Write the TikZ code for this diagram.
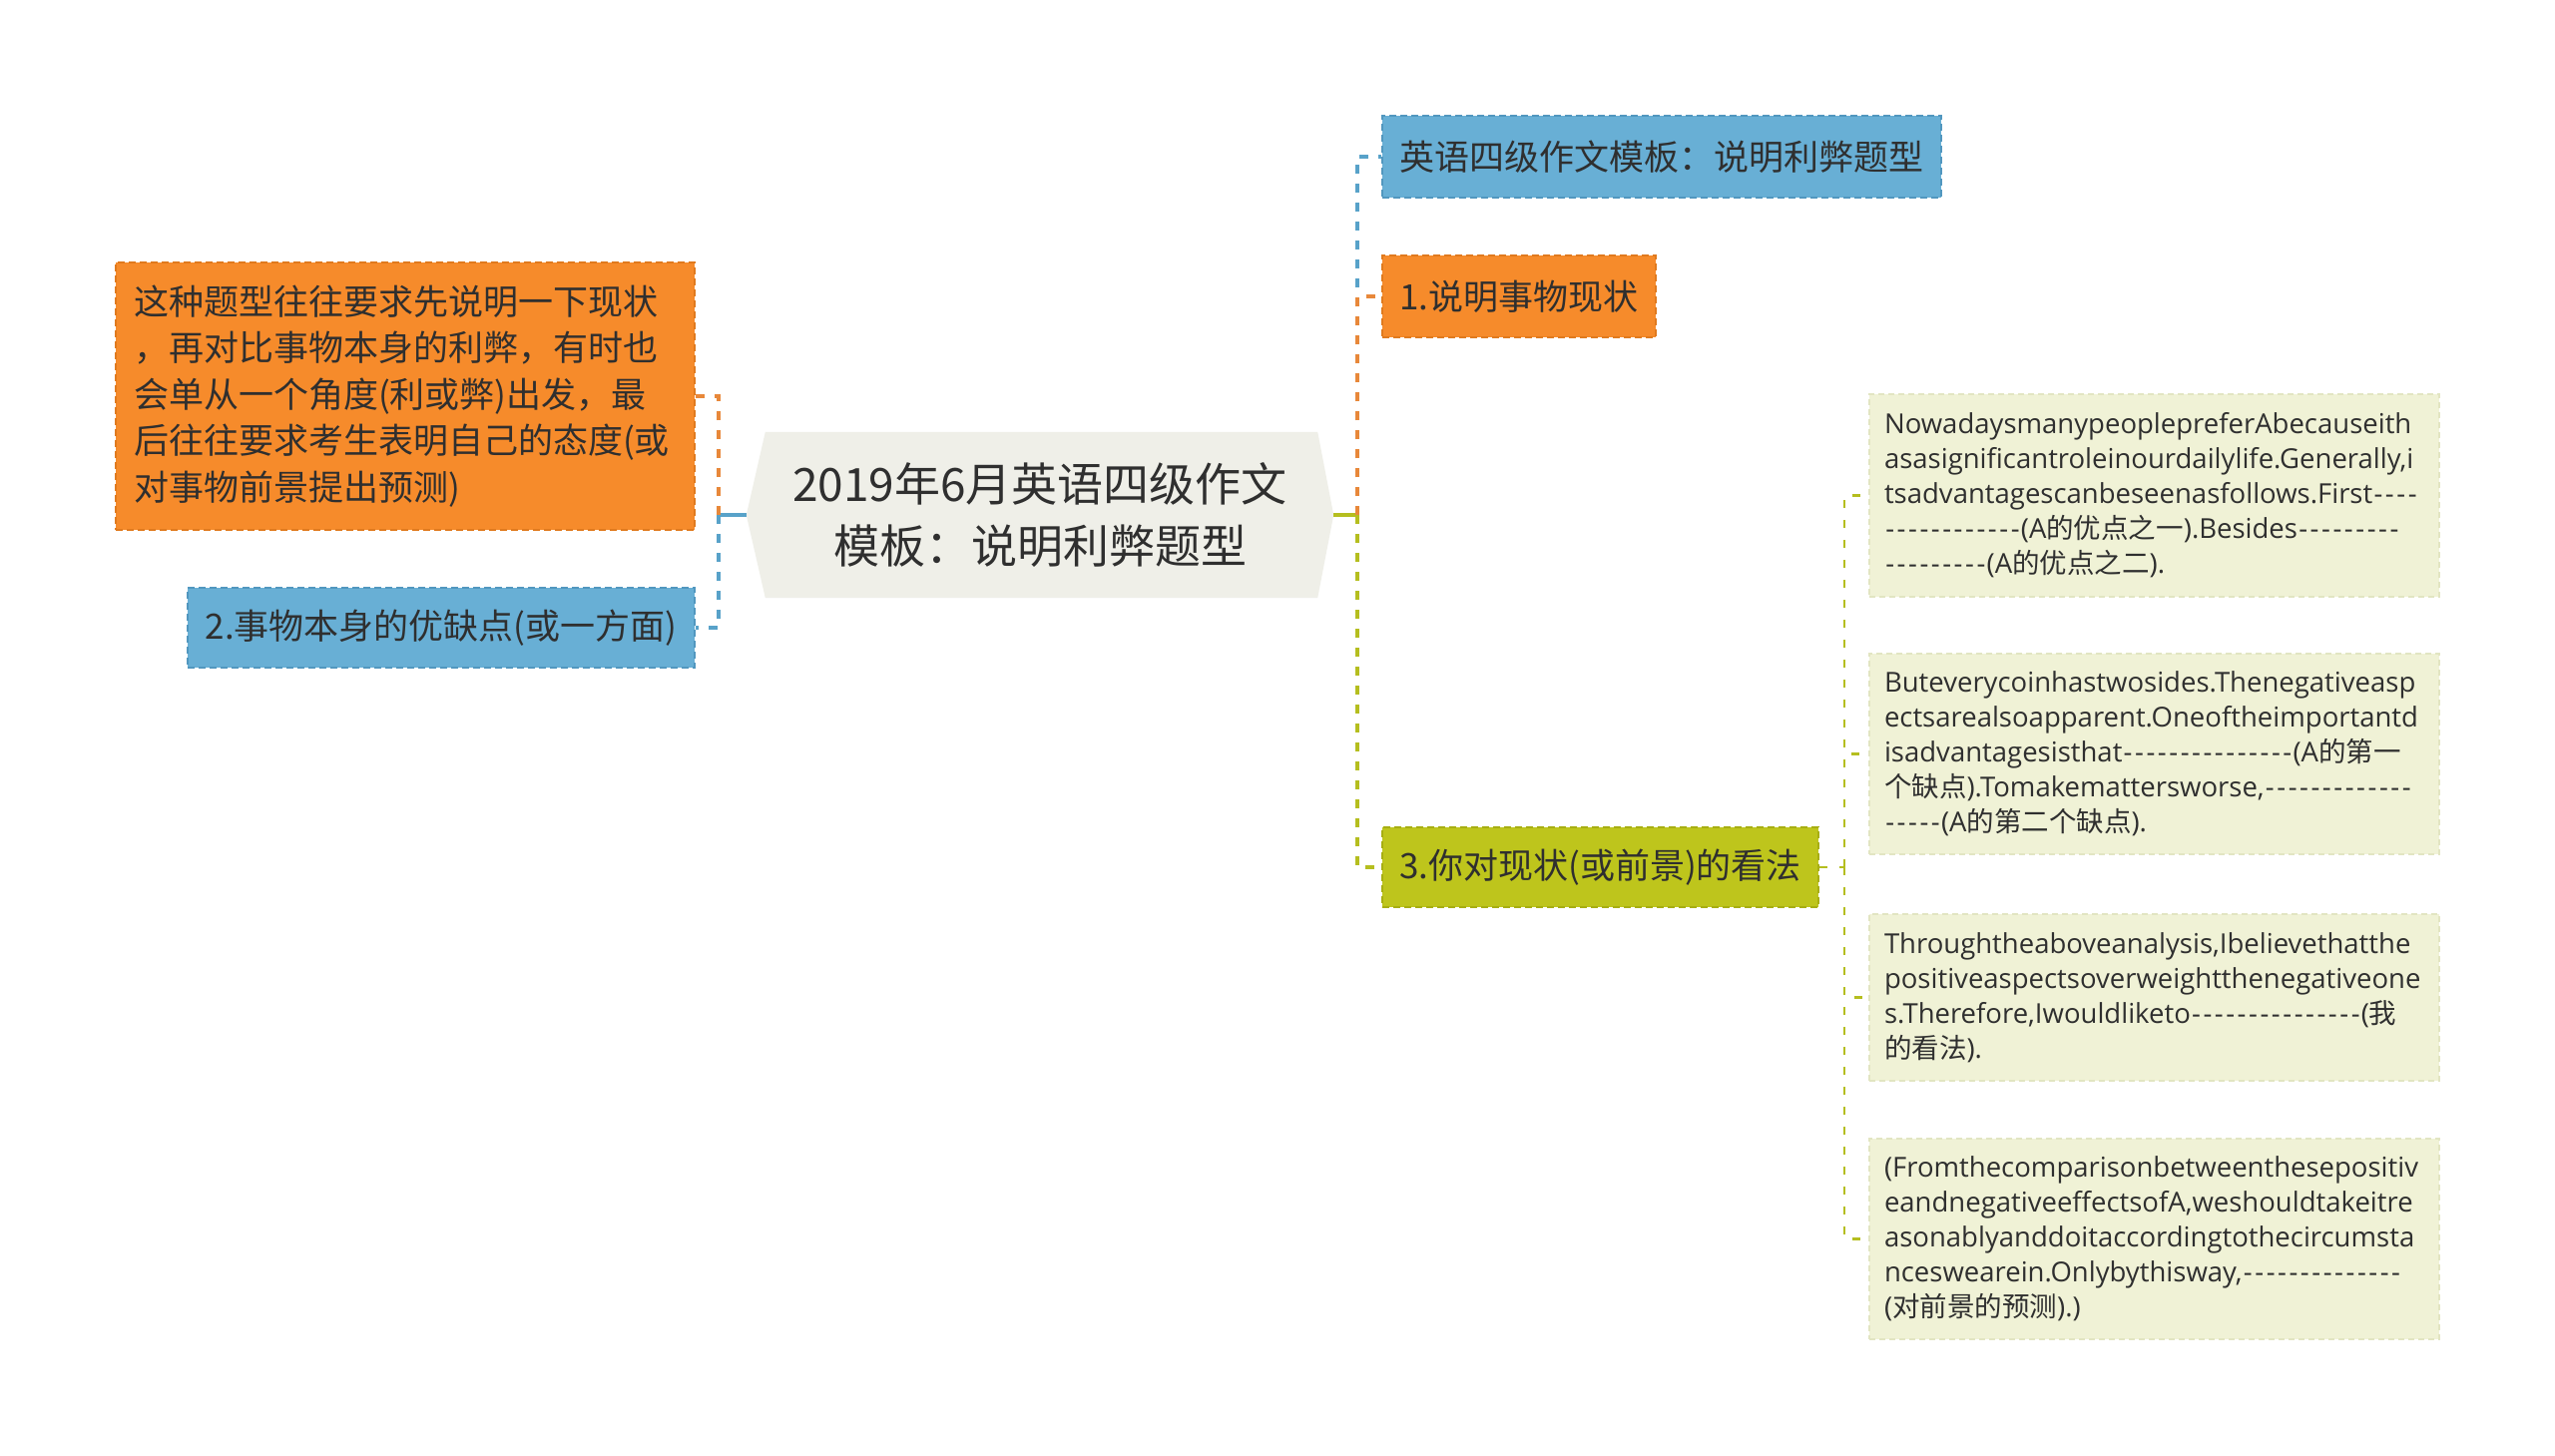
\documentclass[tikz,border=0pt]{standalone}
\usepackage{fontspec}
\setmainfont{Open Sans}
\newfontfamily\cjk{Noto Sans CJK SC}
\usetikzlibrary{backgrounds}
\ExplSyntaxOn
\NewDocumentCommand\hyrun{m}{\prg_replicate:nn{#1}{\makebox[11.4pt]{-}}}
\ExplSyntaxOff
\definecolor{corange}{HTML}{F68B2B}
\definecolor{corangeB}{HTML}{E07A1E}
\definecolor{cblue}{HTML}{68AFD5}
\definecolor{cblueB}{HTML}{5197BF}
\definecolor{cgreen}{HTML}{BEC51C}
\definecolor{cgreenB}{HTML}{A7AE12}
\definecolor{ctext}{HTML}{F0F2D6}
\definecolor{ctextB}{HTML}{E2E5C2}
\definecolor{croot}{HTML}{EFEFE8}
\definecolor{ink}{HTML}{2F2F2F}
\definecolor{lorangeL}{HTML}{E8883A}
\definecolor{lblueL}{HTML}{58A2C9}
\definecolor{lgreenL}{HTML}{B5BE1F}
\tikzset{
  cat/.style={draw, line width=2pt, dash pattern=on 7pt off 4pt, inner sep=0pt,
    text=ink, align=center, font=\cjk\fontsize{35}{46.5}\selectfont},
  tbox/.style={fill=ctext, draw=ctextB, line width=1.5pt, dash pattern=on 6pt off 4pt,
    inner sep=0pt, minimum width=571pt, text width=541pt, align=left, text=ink,
    font=\fontsize{27.5}{35}\selectfont},
  conn/.style={line width=4pt, dash pattern=on 9pt off 10pt},
  subconn/.style={line width=2.2pt, dash pattern=on 8pt off 12pt},
  solidconn/.style={line width=4pt},
}
\begin{document}
\begin{tikzpicture}[x=1pt,y=-1pt]
\useasboundingbox (0,0) rectangle (2560,1459);

% root
\node[minimum width=588pt, minimum height=166pt, inner sep=0pt, align=center, text=ink,
  font=\cjk\fontsize{46}{62}\selectfont] (root) at (1042,516)
  {2019年6月英语四级作文\\模板：说明利弊题型};
\begin{scope}[on background layer]
\fill[white] (0,0) rectangle (2560,1459);
\fill[croot] (root.west) -- ([xshift=19pt]root.north west) -- ([xshift=-16pt]root.north east)
  -- (root.east) -- ([xshift=-16pt]root.south east) -- ([xshift=19pt]root.south west) -- cycle;
\end{scope}

% left nodes
\node[cat, fill=corange, draw=corangeB, minimum width=580pt, minimum height=268pt,
  text width=544pt, align=left] (lo) at (406,397)
  {这种题型往往要求先说明一下现状\\，再对比事物本身的利弊，有时也\\会单从一个角度(利或弊)出发，最\\后往往要求考生表明自己的态度(或\\对事物前景提出预测)};
\node[cat, fill=cblue, draw=cblueB, minimum width=508pt, minimum height=80pt] (lb) at (442,629)
  {2.事物本身的优缺点(或一方面)};

% right category nodes
\node[cat, fill=cblue, draw=cblueB, minimum width=560pt, minimum height=82pt] (rb) at (1665,157)
  {英语四级作文模板：说明利弊题型};
\node[cat, fill=corange, draw=corangeB, minimum width=274pt, minimum height=82pt] (ro) at (1522,297)
  {1.说明事物现状};
\node[cat, fill=cgreen, draw=cgreenB, minimum width=437pt, minimum height=80pt] (rg) at (1603.5,869)
  {3.你对现状(或前景)的看法};

% text boxes
\node[tbox, minimum height=203pt] (t1) at (2158.5,496.5)
  {NowadaysmanypeoplepreferAbecauseith\\asasignificantroleinourdailylife.Generally,i\\tsadvantagescanbeseenasfollows.First\hyrun{4}\\\hyrun{12}(A{\cjk 的优点之一}).Besides\hyrun{9}\\\hyrun{9}(A{\cjk 的优点之二}).};
\node[tbox, minimum height=201pt] (t2) at (2158.5,755.5)
  {Buteverycoinhastwosides.Thenegativeasp\\ectsarealsoapparent.Oneoftheimportantd\\isadvantagesisthat\hyrun{15}(A{\cjk 的第一}\\{\cjk 个缺点}).Tomakemattersworse,\hyrun{13}\\\hyrun{5}(A{\cjk 的第二个缺点}).};
\node[tbox, minimum height=167pt] (t3) at (2158.5,999.5)
  {Throughtheaboveanalysis,Ibelievethatthe\\positiveaspectsoverweightthenegativeone\\s.Therefore,Iwouldliketo\hyrun{15}({\cjk 我}\\{\cjk 的看法}).};
\node[tbox, minimum height=201pt] (t4) at (2158.5,1241.5)
  {(Fromthecomparisonbetweenthesepositiv\\eandnegativeeffectsofA,weshouldtakeitre\\asonablyanddoitaccordingtothecircumsta\\nceswearein.Onlybythisway,\hyrun{14}\\({\cjk 对前景的预测}).)};

% junction coordinates
\coordinate (jl) at (720,516);
\coordinate (jr) at (1360,516);
\coordinate (jg) at (1848,869);

% left connectors
\draw[solidconn, lblueL] (root.west) -- (jl);
\draw[conn, lblueL] (jl) |- (lb.east);
\draw[conn, lorangeL] (jl) |- (lo.east);

% right connectors
\draw[solidconn, lgreenL] (root.east) -- (jr);
\draw[conn, lblueL] (jr) |- (rb.west);
\draw[conn, lorangeL] (jr) |- (ro.west);
\draw[conn, lgreenL] (jr) |- (rg.west);

% green to text boxes
\draw[subconn, lgreenL] (rg.east) -- (jg);
\draw[subconn, lgreenL] (jg) |- (t1.west);
\draw[subconn, lgreenL] (jg) |- (t2.west);
\draw[subconn, lgreenL] (jg) |- (t3.west);
\draw[subconn, lgreenL] (jg) |- (t4.west);
\end{tikzpicture}
\end{document}
